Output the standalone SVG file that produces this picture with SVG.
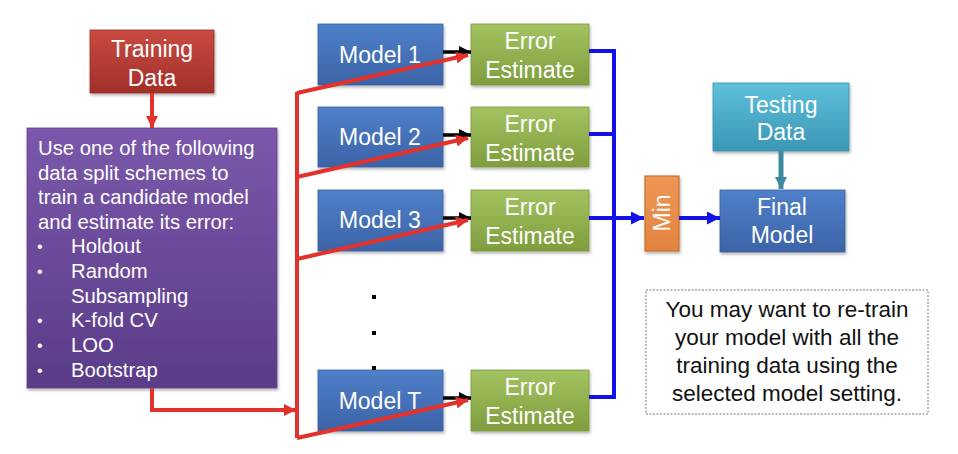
<svg xmlns="http://www.w3.org/2000/svg" width="958" height="454" viewBox="0 0 958 454">
<defs>
<linearGradient id="gRed" x1="0" y1="0" x2="0" y2="1"><stop offset="0" stop-color="#c94a41"/><stop offset="1" stop-color="#a2302a"/></linearGradient>
<linearGradient id="gPurple" x1="0" y1="0" x2="0" y2="1"><stop offset="0" stop-color="#7a58ab"/><stop offset="1" stop-color="#5a3c88"/></linearGradient>
<linearGradient id="gBlue" x1="0" y1="0" x2="0" y2="1"><stop offset="0" stop-color="#4f80c9"/><stop offset="1" stop-color="#3c63a7"/></linearGradient>
<linearGradient id="gGreen" x1="0" y1="0" x2="0" y2="1"><stop offset="0" stop-color="#a3c361"/><stop offset="1" stop-color="#7f9d3d"/></linearGradient>
<linearGradient id="gTeal" x1="0" y1="0" x2="0" y2="1"><stop offset="0" stop-color="#5fc0dc"/><stop offset="1" stop-color="#3a96b4"/></linearGradient>
<linearGradient id="gOrange" x1="0" y1="0" x2="0" y2="1"><stop offset="0" stop-color="#ef9656"/><stop offset="1" stop-color="#e2843f"/></linearGradient>
<filter id="sh" x="-10%" y="-10%" width="130%" height="130%"><feDropShadow dx="1" dy="2" stdDeviation="1.5" flood-color="#000" flood-opacity="0.3"/></filter>
<marker id="aBlack" viewBox="0 0 12 12" refX="12" refY="6" markerWidth="13" markerHeight="12" orient="auto" markerUnits="userSpaceOnUse"><path d="M0,0 L12,6 L0,12 z" fill="#000"/></marker>
<marker id="aRed" viewBox="0 0 12 12" refX="12" refY="6" markerWidth="12" markerHeight="12" orient="auto" markerUnits="userSpaceOnUse"><path d="M0,0 L12,6 L0,12 z" fill="#e2322b"/></marker>
<marker id="aBlue" viewBox="0 0 12 12" refX="12" refY="6" markerWidth="13" markerHeight="13" orient="auto" markerUnits="userSpaceOnUse"><path d="M0,0 L12,6 L0,12 z" fill="#1212e8"/></marker>
<marker id="aTeal" viewBox="0 0 12 12" refX="12" refY="6" markerWidth="12" markerHeight="13" orient="auto" markerUnits="userSpaceOnUse"><path d="M0,0 L12,6 L0,12 z" fill="#3d8aa0"/></marker>
</defs>
<style>
text{font-family:"Liberation Sans",Arial,sans-serif;}
.w{fill:#fff;font-size:23px;text-anchor:middle;}
.p{fill:#fff;font-size:20.3px;}
.b{fill:#fff;font-size:16px;}
.n{fill:#111;font-size:22.5px;text-anchor:middle;}
.box{filter:url(#sh);}
.red{stroke:#e2322b;stroke-width:4;fill:none;}
.blk{stroke:#000;stroke-width:3.5;fill:none;marker-end:url(#aBlack);}
.blu{stroke:#1212e8;stroke-width:4;fill:none;}
</style>
<rect width="958" height="454" fill="#fff"/>

<g id="training-data"><rect class="box" x="90" y="30" width="124" height="63" fill="url(#gRed)" stroke="#9a2e28" stroke-width="0.8"/><text class="w" x="152" y="57">Training</text><text class="w" x="152" y="86">Data</text></g>

<g id="schemes"><rect class="box" x="27" y="128" width="250" height="260" fill="url(#gPurple)" stroke="#5e4590" stroke-width="0.8"/>
<text class="p" x="38" y="155">Use one of the following</text>
<text class="p" x="38" y="180">data split schemes to</text>
<text class="p" x="38" y="204">train a candidate model</text>
<text class="p" x="38" y="229">and estimate its error:</text>
<text class="b" x="37" y="252">•</text><text class="p" x="71" y="253">Holdout</text>
<text class="b" x="37" y="277">•</text><text class="p" x="71" y="278">Random</text>
<text class="p" x="71" y="303">Subsampling</text>
<text class="b" x="37" y="326">•</text><text class="p" x="71" y="327">K-fold CV</text>
<text class="b" x="37" y="351">•</text><text class="p" x="71" y="352">LOO</text>
<text class="b" x="37" y="376">•</text><text class="p" x="71" y="377">Bootstrap</text>
</g>

<g id="model-1"><rect class="box" x="318" y="24" width="125" height="61" fill="url(#gBlue)" stroke="#3a5f9e" stroke-width="0.8"/><text class="w" x="380" y="63">Model 1</text></g>
<g id="model-2"><rect class="box" x="318" y="107" width="125" height="60" fill="url(#gBlue)" stroke="#3a5f9e" stroke-width="0.8"/><text class="w" x="380" y="145">Model 2</text></g>
<g id="model-3"><rect class="box" x="318" y="190" width="125" height="61" fill="url(#gBlue)" stroke="#3a5f9e" stroke-width="0.8"/><text class="w" x="380" y="228">Model 3</text></g>
<g id="model-t"><rect class="box" x="318" y="370" width="125" height="61" fill="url(#gBlue)" stroke="#3a5f9e" stroke-width="0.8"/><text class="w" x="380" y="409">Model T</text></g>

<g id="error-1"><rect class="box" x="471" y="24" width="118" height="61" fill="url(#gGreen)" stroke="#7c9a3e" stroke-width="0.8"/><text class="w" x="530" y="49">Error</text><text class="w" x="530" y="78">Estimate</text></g>
<g id="error-2"><rect class="box" x="471" y="107" width="118" height="60" fill="url(#gGreen)" stroke="#7c9a3e" stroke-width="0.8"/><text class="w" x="530" y="132">Error</text><text class="w" x="530" y="161">Estimate</text></g>
<g id="error-3"><rect class="box" x="471" y="190" width="118" height="61" fill="url(#gGreen)" stroke="#7c9a3e" stroke-width="0.8"/><text class="w" x="530" y="215">Error</text><text class="w" x="530" y="244">Estimate</text></g>
<g id="error-t"><rect class="box" x="471" y="370" width="118" height="61" fill="url(#gGreen)" stroke="#7c9a3e" stroke-width="0.8"/><text class="w" x="530" y="395">Error</text><text class="w" x="530" y="424">Estimate</text></g>

<g id="ellipsis"><rect x="372" y="295" width="4" height="4" fill="#000"/><rect x="372" y="331" width="4" height="4" fill="#000"/><rect x="372" y="366" width="4" height="4" fill="#000"/></g>

<g id="min"><rect class="box" x="645" y="176" width="34" height="75" fill="url(#gOrange)" stroke="#c8702f" stroke-width="1.2"/><text class="w" transform="translate(662,213) rotate(-90)" x="0" y="8">Min</text></g>

<g id="testing-data"><rect class="box" x="713" y="83" width="136" height="68" fill="url(#gTeal)" stroke="#3a90ab" stroke-width="0.8"/><text class="w" x="781" y="113">Testing</text><text class="w" x="781" y="140">Data</text></g>

<g id="final-model"><rect class="box" x="720" y="190" width="125" height="62" fill="url(#gBlue)" stroke="#3a5f9e" stroke-width="0.8"/><text class="w" x="782" y="215">Final</text><text class="w" x="782" y="243">Model</text></g>

<g id="note"><rect x="646" y="290" width="282" height="124" fill="#fff" stroke="#777" stroke-width="1" stroke-dasharray="2,1.5"/>
<text class="n" x="787" y="317">You may want to re-train</text>
<text class="n" x="787" y="345">your model with all the</text>
<text class="n" x="787" y="373">training data using the</text>
<text class="n" x="787" y="401">selected model setting.</text>
</g>

<g id="connectors">
<line x1="152" y1="93" x2="152" y2="128" stroke="#e2322b" stroke-width="4" marker-end="url(#aRed)"/>
<line x1="443" y1="52" x2="471" y2="52" class="blk"/>
<line x1="443" y1="135" x2="471" y2="135" class="blk"/>
<line x1="443" y1="218" x2="471" y2="218" class="blk"/>
<line x1="443" y1="398" x2="471" y2="398" class="blk"/>
<path class="red" d="M152,388 V410 H296" marker-end="url(#aRed)"/>
<path class="red" d="M297,92 V438"/>
<path class="red" d="M297,93 L468,55" marker-end="url(#aRed)"/>
<path class="red" d="M297,177 L468,138" marker-end="url(#aRed)"/>
<path class="red" d="M297,259 L468,220" marker-end="url(#aRed)"/>
<path class="red" d="M297,438 L468,400" marker-end="url(#aRed)"/>
<path class="blu" d="M589,51 H614 M589,134 H614 M589,218 H614 M589,397 H614 M614,49 V399"/>
<line x1="614" y1="218" x2="644" y2="218" class="blu" marker-end="url(#aBlue)"/>
<line x1="679" y1="218" x2="720" y2="218" class="blu" marker-end="url(#aBlue)"/>
<line x1="781" y1="151" x2="781" y2="189" stroke="#3d8aa0" stroke-width="5" marker-end="url(#aTeal)"/>
</g>
</svg>
